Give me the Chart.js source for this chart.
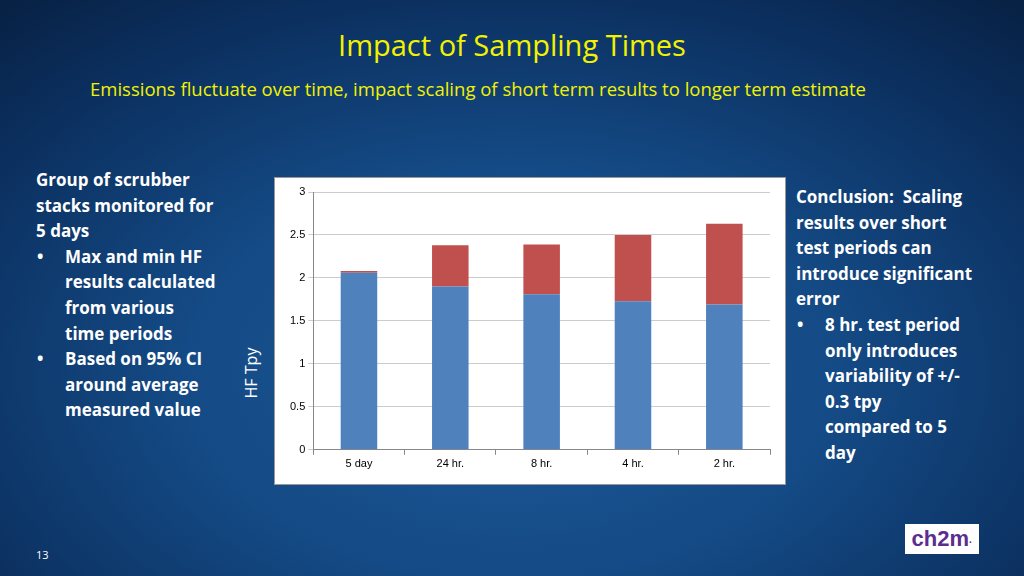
<!DOCTYPE html>
<html><head><meta charset="utf-8">
<script src="https://cdn.jsdelivr.net/npm/chart.js@4/dist/chart.umd.min.js"></script>
<style>
html,body{margin:0;padding:0;}
body{width:1024px;height:576px;position:relative;overflow:hidden;font-family:"Open Sans","Liberation Sans",sans-serif;
background:radial-gradient(ellipse 80% 90% at 50% 65%,#1d5a9a 0%,#144a85 40%,#0b2f5e 75%,#071d3d 100%);}
.t{position:absolute;color:#f2f200;white-space:nowrap;}
.w{position:absolute;color:#fff;font-weight:bold;font-size:17px;line-height:25.6px;white-space:nowrap;}
ul{margin:0;padding-left:29px;list-style:none;} li{position:relative;}
li:before{content:"•";position:absolute;left:-28px;}
#box{position:absolute;left:274px;top:177px;width:512px;height:308px;background:#fff;border:1px solid #999;box-sizing:border-box;}
</style></head><body>
<div class="t" style="left:0;width:1024px;top:25px;text-align:center;font-size:29px;">Impact of Sampling Times</div>
<div class="t" style="left:90px;top:76px;font-size:18.5px;">Emissions fluctuate over time, impact scaling of short term results to longer term estimate</div>
<div class="w" style="left:36px;top:167px;">Group of scrubber<br>stacks monitored for<br>5 days
<ul><li>Max and min HF<br>results calculated<br>from various<br>time periods</li><li>Based on 95% CI<br>around average<br>measured value</li></ul></div>
<div class="w" style="left:796px;top:184px;">Conclusion:&nbsp; Scaling<br>results over short<br>test periods can<br>introduce significant<br>error
<ul><li>8 hr. test period<br>only introduces<br>variability of +/-<br>0.3 tpy<br>compared to 5<br>day</li></ul></div>
<div style="position:absolute;left:211px;top:362px;transform:rotate(-90deg);color:#fff;font-size:16px;width:80px;text-align:center;white-space:nowrap;">HF Tpy</div>
<div style="position:absolute;left:36px;top:547px;color:#fff;font-size:11px;">13</div>
<div style="position:absolute;left:905px;top:524px;width:74px;height:30px;background:#fff;color:#5b2d8e;font-weight:bold;font-size:22px;text-align:center;line-height:30px;font-family:'Liberation Sans',sans-serif;">ch2m<span style="font-size:10px">·</span></div>
<div id="box"><canvas id="c" width="510" height="306"></canvas></div>
<script>
const categories=["5 day","24 hr.","8 hr.","4 hr.","2 hr."];
const minValues=[2.06,1.90,1.81,1.73,1.69];
const maxValues=[2.08,2.38,2.39,2.50,2.63];
const yTicks=[0,0.5,1,1.5,2,2.5,3];
const diff=maxValues.map((v,i)=>+(v-minValues[i]).toFixed(3));
new Chart(document.getElementById('c'),{type:'bar',
data:{labels:categories,datasets:[
{data:minValues,backgroundColor:'#4f81bd',barPercentage:0.4,categoryPercentage:1},
{data:diff,backgroundColor:'#c0504d',barPercentage:0.4,categoryPercentage:1}]},
options:{responsive:false,animation:false,layout:{padding:{left:12,right:15,top:14,bottom:10}},
plugins:{legend:{display:false},tooltip:{enabled:false}},
scales:{x:{stacked:true,grid:{display:true,drawOnChartArea:false,color:'#888',tickLength:5},border:{color:'#888'},ticks:{color:'#000',font:{size:11}}},
y:{stacked:true,min:0,max:3,afterBuildTicks:a=>{a.ticks=yTicks.map(v=>({value:v}));},
grid:{color:'#ccc',tickLength:5},border:{color:'#888'},ticks:{color:'#000',font:{size:11},callback:v=>String(v)}}}}});
</script></body></html>
